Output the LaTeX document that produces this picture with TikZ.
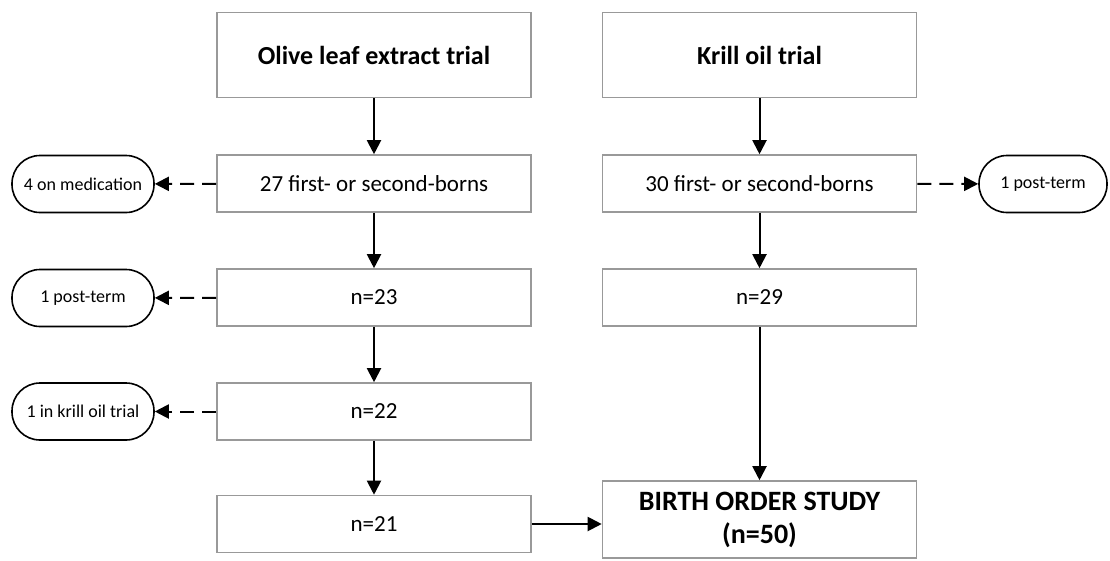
\documentclass[tikz,border=0pt]{standalone}
\usepackage{fontspec}
\setmainfont{Carlito}
\usetikzlibrary{arrows.meta}
\definecolor{frame}{rgb}{0.6,0.6,0.6}

\begin{document}
\begin{tikzpicture}[
  x=1pt, y=-1pt,
  box/.style = {draw=frame, line width=1.6pt, minimum width=314pt, minimum height=57pt,
    inner sep=0pt, font=\fontsize{23}{27}\selectfont, align=center},
  head/.style = {box, minimum height=85pt, font=\bfseries\fontsize{26}{30}\selectfont},
  goal/.style = {box, minimum height=77pt, font=\bfseries\fontsize{28}{33}\selectfont},
  drop/.style = {draw=black, line width=1.6pt, rounded corners=28pt, minimum width=142pt,
    minimum height=57pt, inner sep=0pt, font=\fontsize{18}{22}\selectfont},
  flow/.style = {line width=2pt, -{Triangle[length=14pt,width=14pt]}},
  exclude/.style = {flow, dash pattern=on 14pt off 8pt},
]

  \useasboundingbox (0,0) rectangle (1110,560);

  % trials
  \node[head] (olive) at (374,55) {Olive leaf extract trial};
  \node[head] (krill) at (759.5,55) {Krill oil trial};

  % olive leaf column
  \node[box] (oborn) at (374,183.5) {27 first- or second-borns};
  \node[box] (o23) at (374,297.5) {n=23};
  \node[box] (o22) at (374,411.5) {n=22};
  \node[box] (o21) at (374,524) {n=21};

  % krill oil column
  \node[box] (kborn) at (759.5,183.5) {30 first- or second-borns};
  \node[box] (k29) at (759.5,297.5) {n=29};
  \node[goal] (study) at (759.5,519.5) {BIRTH ORDER STUDY\\(n=50)};

  % exclusions
  \node[drop] (omed) at (83,184) {4 on medication};
  \node[drop] (oterm) at (83,298) {1 post-term};
  \node[drop] (okrill) at (83,411.5) {1 in krill oil trial};
  \node[drop, minimum width=128pt] (kterm) at (1043,184) {1 post-term};

  \draw[flow] (olive) -- (oborn);
  \draw[flow] (oborn) -- (o23);
  \draw[flow] (o23) -- (o22);
  \draw[flow] (o22) -- (o21);
  \draw[flow] (o21.east) -- (o21.east -| study.west);

  \draw[flow] (krill) -- (kborn);
  \draw[flow] (kborn) -- (k29);
  \draw[flow] (k29) -- (study);

  \draw[exclude] (oborn) -- (omed);
  \draw[exclude] (o23) -- (oterm);
  \draw[exclude] (o22) -- (okrill);
  \draw[exclude] (kborn) -- (kterm);

\end{tikzpicture}
\end{document}
